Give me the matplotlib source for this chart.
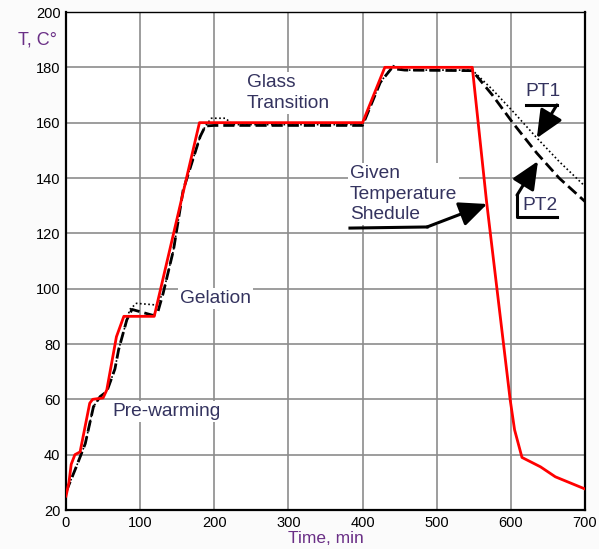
import matplotlib.pyplot as plt

# Заданный температурный режим (красная линия)
t_given = [0, 4, 7, 12, 19, 32, 36, 50, 55, 68, 78, 119, 180, 400, 430, 548, 567, 599, 605, 615, 640, 660, 700]
T_given = [25, 30, 36.5, 40, 41, 58.6, 60, 60.5, 63.4, 82.6, 90, 90, 160, 160, 180, 180, 132, 60, 49, 39, 35.6, 32, 27.6]

# PT2 - штриховая линия
t_pt2 = [0, 14, 26, 37, 46, 55, 66, 71, 82, 89, 118, 124, 131, 145, 158, 181, 188, 200, 400, 424, 439, 457,
         548, 575, 603, 635, 665, 700]
T_pt2 = [26.5, 35.7, 44, 57.3, 61, 62.8, 71, 78, 88.7, 92.5, 90.3, 91.7, 98.3, 114, 135.6, 155, 158.8, 159, 159,
         174.6, 179.6, 179, 178.8, 170, 159.8, 149, 140, 131.5]

# PT1 - пунктирная линия
t_pt1 = [0, 14, 26, 37, 46, 55, 66, 71, 82, 86, 95, 122, 128, 131, 145, 158, 181, 188, 196, 215, 225, 400, 424,
         441, 457, 548, 575, 603, 635, 665, 700]
T_pt1 = [26.5, 35.7, 44, 57.3, 61, 62.8, 71, 78, 88.7, 92.5, 94.7, 94.1, 97, 98.3, 114, 135.6, 155, 158.8, 161.6,
         161.6, 159.3, 159.3, 174.6, 180.6, 179, 179, 172, 164, 154.5, 146, 137]

x_ticks = [0, 100, 200, 300, 400, 500, 600, 700]
y_ticks = [20, 40, 60, 80, 100, 120, 140, 160, 180, 200]

txt_color = '#34335f'
lbl_color = '#6a2f86'
font = 'Liberation Sans'

fig = plt.figure(figsize=(5.99, 5.49), dpi=100, facecolor='#fbfbfb')
ax = fig.add_axes([66 / 599, 39 / 549, 519 / 599, 498 / 549])
ax.set_facecolor('white')

ax.plot(t_pt1, T_pt1, color='black', lw=1.2, linestyle=(0, (1, 1.5)), zorder=3)
ax.plot(t_pt2, T_pt2, color='black', lw=2, linestyle=(0, (4, 1.8)), zorder=4)
ax.plot(t_given, T_given, color='red', lw=2, zorder=5)

ax.set_xlim(0, 700)
ax.set_ylim(20, 200)
ax.set_xticks(x_ticks)
ax.set_yticks(y_ticks)
ax.grid(True, color='#8c8c8c', lw=1.2)
ax.set_axisbelow(True)
ax.tick_params(length=0, pad=4, labelsize=10.5)
for lab in ax.get_xticklabels() + ax.get_yticklabels():
    lab.set_fontfamily(font)
for s in ax.spines.values():
    s.set_color('black')
    s.set_linewidth(1.6)
ax.spines['top'].set_linewidth(1.0)

ax.set_xlabel('Time, min', fontsize=12.5, color=lbl_color, family=font, labelpad=1)
fig.text(18 / 599, 1 - 40 / 549, 'T, C\u00b0', fontsize=13, color=lbl_color, family=font, va='center')

fs = 13.8
box = dict(facecolor='white', edgecolor='none', pad=1.5)
ax.text(63, 55.5, 'Pre-warming', fontsize=fs, color=txt_color, family=font, va='center', bbox=box, zorder=6)
ax.text(154, 96.4, 'Gelation', fontsize=fs, color=txt_color, family=font, va='center', bbox=box, zorder=6)
ax.text(244, 170.7, 'Glass\nTransition', fontsize=fs, color=txt_color, family=font, va='center',
        linespacing=1.25, bbox=box, zorder=6)
ax.text(383, 134.2, 'Given\nTemperature\nShedule', fontsize=fs, color=txt_color, family=font, va='center',
        linespacing=1.25, bbox=box, zorder=6)
ax.text(620, 171.2, 'PT1', fontsize=fs, color=txt_color, family=font, va='center', bbox=box, zorder=6)
ax.text(616, 129.9, 'PT2', fontsize=fs, color=txt_color, family=font, va='center', bbox=box, zorder=6)

# стрелки-выноски
arrow = dict(arrowstyle='-|>,head_length=0.85,head_width=0.38', color='black', lw=2.2,
             mutation_scale=20, shrinkA=0, shrinkB=0)
ax.plot([383, 487], [121.9, 122.3], color='black', lw=2.2, zorder=7)
ax.annotate('', xy=(568, 130.6), xytext=(487, 122.3), arrowprops=arrow, zorder=7)
ax.plot([620, 662], [166.4, 166.4], color='black', lw=2.2, zorder=7)
ax.annotate('', xy=(635, 154.4), xytext=(662, 166.4), arrowprops=arrow, zorder=7)
ax.plot([608.3, 608.3, 662], [133.8, 125.9, 125.9], color='black', lw=2.2, zorder=7)
ax.annotate('', xy=(636.6, 146.1), xytext=(608.3, 133.8), arrowprops=arrow, zorder=7)

fig.savefig('out.png', dpi=100, facecolor=fig.get_facecolor())
